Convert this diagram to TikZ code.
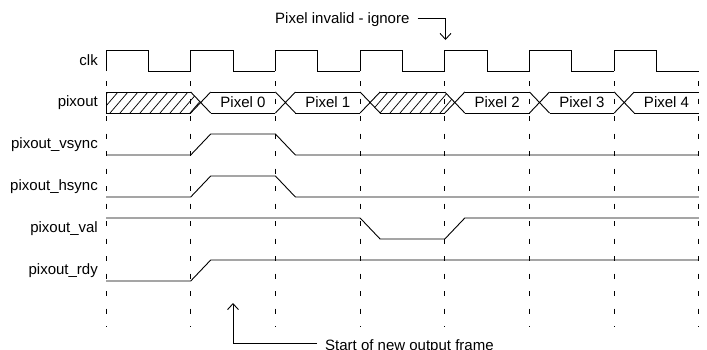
\documentclass[tikz,border=0pt]{standalone}
\usepackage{fontspec}
\setmainfont{Liberation Sans}
\usetikzlibrary{arrows.meta}
\tikzset{
  sig/.style={line width=.9pt},
  grid/.style={line width=.9pt,dash pattern=on 5pt off 12.5pt},
  hatch/.style={line width=.7pt},
  lbl/.style={anchor=east,inner sep=0pt},
  note/.style={inner sep=0pt}
}
\begin{document}
\begin{tikzpicture}[line cap=butt,line join=miter,>={Straight Barb[length=6pt,width=11pt]},x=1pt,y=-1pt,font=\fontsize{15}{18}\selectfont]
		\useasboundingbox (0,0) rectangle (707,349);
		\def\T{84.7}
		\foreach \i in {0,...,7}
			\draw[grid] ({106+\i*\T},81)--({106+\i*\T},327);
		\foreach \i in {0,...,6}
			\draw[sig] ({106+\i*\T},71)--++(0,-21)--++(42.35,0)--++(0,21)--++(42.35,0);
		\begin{scope}
			\clip (106,92)--(190.7,92)--(200.7,102.5)--(190.7,113)--(106,113)--cycle
			      (370.1,102.5)--(380.1,92)--(444.8,92)--(454.8,102.5)--(444.8,113)--(380.1,113)--cycle;
			\foreach \k in {0,...,36}
				\draw[hatch] ({90+\k*10},113)--++(18,-21);
		\end{scope}
		\draw[sig] (106,92)--(106,113);
		\draw[sig] (106,92)--(190.7,92) (106,113)--(190.7,113);
		\foreach \i in {1,...,6} {
			\draw[sig] ({106+\i*\T},92)--++(20,21) ({106+\i*\T},113)--++(20,-21);
			\draw[sig] ({126+\i*\T},92)--({106+(\i+1)*\T},92) ({126+\i*\T},113)--({106+(\i+1)*\T},113);
		}
		\foreach \n/\x in {0/243,1/327.8,2/497.1,3/581.9,4/666.5}
			\node (pix\n) at (\x,102.5) {Pixel \n};
		\draw[sig] (106,155)--(190.7,155)--(210.7,134)--(275.4,134)--(295.4,155)--(698.9,155);
		\draw[sig] (106,197)--(190.7,197)--(210.7,176)--(275.4,176)--(295.4,197)--(698.9,197);
		\draw[sig] (106,218)--(360.1,218)--(380.1,239)--(444.8,239)--(464.8,218)--(698.9,218);
		\draw[sig] (106,281)--(190.7,281)--(210.7,260)--(698.9,260);
		\node[lbl] (clk) at (98,60.5) {clk};
		\node[lbl] (pixout) at (98,102.5) {pixout};
		\node[lbl] (vsync) at (98,144.5) {pixout\_vsync};
		\node[lbl] (hsync) at (98,186.5) {pixout\_hsync};
		\node[lbl] (val) at (98,229) {pixout\_val};
		\node[lbl] (rdy) at (98,271) {pixout\_rdy};
		\node[note,anchor=west] (inv) at (275,20) {Pixel invalid - ignore};
		\coordinate (invtip) at (445.5,40);
		\draw[sig,->] ([xshift=8pt,yshift=1.7pt]inv.east) -| (invtip);
		\node[note,anchor=west] (sof) at (325,346.7) {Start of new output frame};
		\coordinate (softip) at (233,303);
		\draw[sig,->] ([xshift=-8pt,yshift=3.7pt]sof.west) -| (softip);
	\end{tikzpicture}
\end{document}
